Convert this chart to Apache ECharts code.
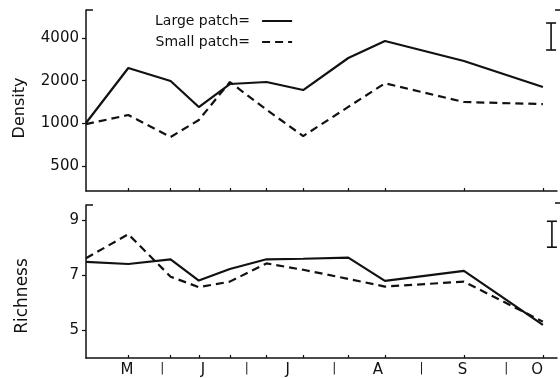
<!DOCTYPE html>
<html><head><meta charset="utf-8">
<script src="https://cdn.jsdelivr.net/npm/echarts@6/dist/echarts.min.js"></script>
<style>html,body{margin:0;padding:0;background:#fff}#c{width:560px;height:378px}</style>
</head><body><div id="c"></div>
<script>
// sampling dates, as days after 1 May
const sampleDays = [4, 19, 34, 44, 55, 68, 81, 97, 110, 138, 166];
// density (log scale)
const densityLarge = [1005, 2456, 1988, 1303, 1893, 1956, 1717, 2889, 3807, 2751, 1803];
const densitySmall = [987, 1144, 800, 1055, 1956, 1248, 813, 1305, 1916, 1413, 1366];
// species richness
const richnessLarge = [7.49, 7.41, 7.58, 6.81, 7.23, 7.58, 7.60, 7.64, 6.80, 7.16, 5.20];
const richnessSmall = [7.62, 8.49, 6.95, 6.57, 6.77, 7.43, 7.20, 6.87, 6.59, 6.77, 5.32];
// month labels on the time axis
const monthLabels = ['M', '|', 'J', '|', 'J', '|', 'A', '|', 'S', '|', 'O'];
const monthLabelDays = [18.5, 31, 45.5, 61, 75.5, 92, 107.5, 123, 137.5, 153, 164];
// tick labels
const densityTicks = [500, 1000, 2000, 4000];
const richnessTicks = [5, 7, 9];
// least-significant-difference bars [day, low, high]
const densityLSD = [[168.9, 3290, 5100]];
const richnessLSD = [[169.2, 8.02, 8.96]];

const INK = '#111';
const FONT = 'DejaVu Sans';
const labelMap = {};
monthLabelDays.forEach((d, i) => { labelMap[d] = monthLabels[i]; });

function pair(xs, ys) { return xs.map((x, i) => [x, ys[i]]); }

function lsdRender(params, api) {
  const x = api.value(0), lo = api.value(1), hi = api.value(2);
  const a = api.coord([x, lo]), b = api.coord([x, hi]);
  const w = 5;
  const st = { stroke: INK, lineWidth: 1.6 };
  return { type: 'group', children: [
    { type: 'line', shape: { x1: a[0], y1: a[1], x2: b[0], y2: b[1] }, style: st },
    { type: 'line', shape: { x1: a[0] - w, y1: a[1], x2: a[0] + w, y2: a[1] }, style: st },
    { type: 'line', shape: { x1: b[0] - w, y1: b[1], x2: b[0] + w, y2: b[1] }, style: st }
  ]};
}

const xMin = 4, xMax = 171;
function xAxis(idx, withLabels) {
  return {
    type: 'value', gridIndex: idx, min: xMin, max: xMax,
    axisLine: { show: true, lineStyle: { color: INK, width: 1.5 } },
    axisTick: { show: true, inside: true, length: 3, lineStyle: { color: INK, width: 1.2 }, customValues: sampleDays.slice(1) },
    axisLabel: withLabels ? {
      show: true, customValues: monthLabelDays, margin: 5,
      formatter: v => {
        const t = labelMap[v];
        if (t === undefined) return '';
        return t === '|' ? '{bar|' + t + '}' : t;
      },
      rich: { bar: { fontFamily: FONT, fontSize: 12, color: INK, padding: [0, 0, 4, 0] } },
      color: INK, fontFamily: FONT, fontSize: 15
    } : { show: false },
    splitLine: { show: false }
  };
}

const yCommon = {
  axisLine: { show: true, lineStyle: { color: INK, width: 1.5 } },
  splitLine: { show: false }
};

const option = {
  animation: false,
  backgroundColor: '#fff',
  grid: [
    { left: 86, right: 3, top: 10, height: 181 },
    { left: 86, right: 3, top: 205, height: 153 }
  ],
  legend: {
    data: ['Large patch', 'Small patch'],
    orient: 'vertical', left: 150, top: 9, align: 'right',
    itemWidth: 30, itemHeight: 10, itemGap: 7,
    itemStyle: { opacity: 0, borderWidth: 0 },
    formatter: n => n + '=',
    textStyle: { color: INK, fontFamily: FONT, fontSize: 14, padding: [0, 7, 0, 0] }
  },
  xAxis: [xAxis(0, false), xAxis(1, true)],
  yAxis: [
    Object.assign({
      type: 'log', gridIndex: 0, logBase: 10, min: 333, max: 6300,
      axisTick: { show: true, length: 4, lineStyle: { color: INK, width: 1.2 }, customValues: densityTicks },
      axisLabel: { show: true, customValues: densityTicks, margin: 7, color: INK, fontFamily: FONT, fontSize: 15,
        formatter: v => String(Math.round(v)) }
    }, yCommon),
    Object.assign({
      type: 'value', gridIndex: 1, min: 4, max: 9.55,
      axisTick: { show: true, length: 4, lineStyle: { color: INK, width: 1.2 }, customValues: richnessTicks },
      axisLabel: { show: true, customValues: richnessTicks, margin: 7, color: INK, fontFamily: FONT, fontSize: 15,
        formatter: v => String(Math.round(v)) }
    }, yCommon)
  ],
  series: [
    { name: 'Large patch', type: 'line', xAxisIndex: 0, yAxisIndex: 0, data: pair(sampleDays, densityLarge),
      symbol: 'none', lineStyle: { color: INK, width: 2.2 }, itemStyle: { color: INK } },
    { name: 'Small patch', type: 'line', xAxisIndex: 0, yAxisIndex: 0, data: pair(sampleDays, densitySmall),
      symbol: 'none', lineStyle: { color: INK, width: 2.2, type: [8, 5] }, itemStyle: { color: INK } },
    { name: 'Large patch', type: 'line', xAxisIndex: 1, yAxisIndex: 1, data: pair(sampleDays, richnessLarge),
      symbol: 'none', lineStyle: { color: INK, width: 2.2 }, itemStyle: { color: INK } },
    { name: 'Small patch', type: 'line', xAxisIndex: 1, yAxisIndex: 1, data: pair(sampleDays, richnessSmall),
      symbol: 'none', lineStyle: { color: INK, width: 2.2, type: [8, 5] }, itemStyle: { color: INK } },
    { type: 'custom', xAxisIndex: 0, yAxisIndex: 0, data: densityLSD, renderItem: lsdRender, silent: true,
      encode: { x: 0, y: [1, 2] } },
    { type: 'custom', xAxisIndex: 1, yAxisIndex: 1, data: richnessLSD, renderItem: lsdRender, silent: true,
      encode: { x: 0, y: [1, 2] } }
  ],
  graphic: [
    { type: 'text', x: 20, y: 108, rotation: Math.PI / 2,
      style: { text: 'Density', fill: INK, font: '16px "DejaVu Sans"', align: 'center', verticalAlign: 'middle' } },
    { type: 'text', x: 23, y: 296, rotation: Math.PI / 2,
      style: { text: 'Richness', fill: INK, font: '17px "DejaVu Sans"', align: 'center', verticalAlign: 'middle' } },
    { type: 'line', shape: { x1: 86, y1: 10, x2: 93, y2: 10 }, style: { stroke: INK, lineWidth: 1.5 } },
    { type: 'line', shape: { x1: 86, y1: 205, x2: 93, y2: 205 }, style: { stroke: INK, lineWidth: 1.5 } },
    { type: 'line', shape: { x1: 555, y1: 10, x2: 560, y2: 10 }, style: { stroke: INK, lineWidth: 1.5 } },
    { type: 'line', shape: { x1: 555, y1: 203, x2: 560, y2: 203 }, style: { stroke: INK, lineWidth: 1.5 } }
  ]
};

const chart = echarts.init(document.getElementById('c'), null, { renderer: 'canvas' });
chart.setOption(option);
</script>
</body></html>
